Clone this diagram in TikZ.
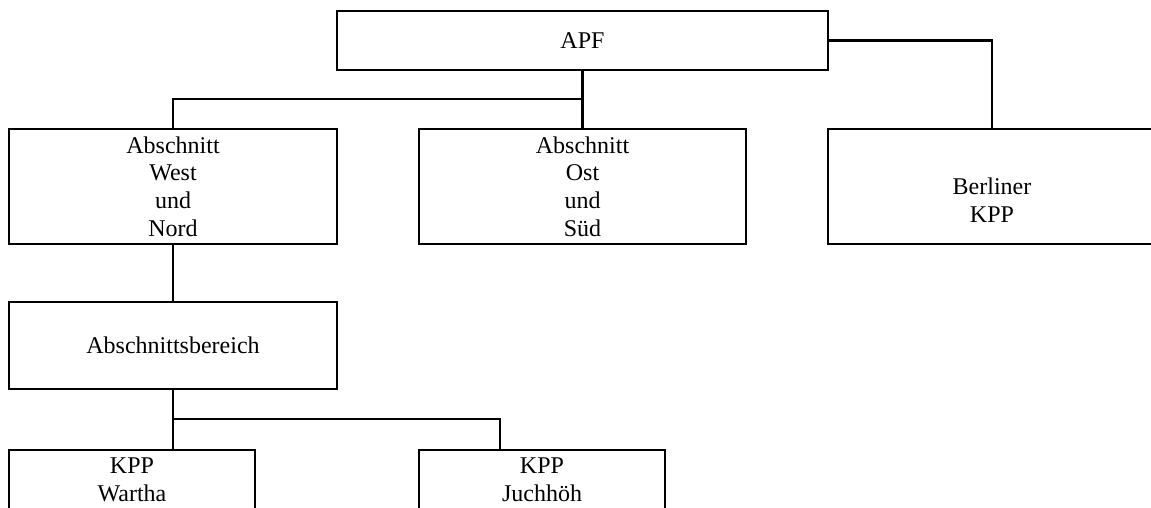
\documentclass[tikz,border=0pt]{standalone}
\usepackage{fontspec}
\setmainfont{Liberation Serif}
\begin{document}
\begin{tikzpicture}[x=1pt,y=-1pt,
  box/.style={draw=black,line width=2.4pt,rectangle,inner sep=0pt,align=center,
    font=\fontsize{24}{27.6}\selectfont},
  conn/.style={draw=black,line width=2.4pt}]
\useasboundingbox (0,0) rectangle (1151,507);
\node[box,minimum width=491pt,minimum height=59pt] (apf) at (582.5,40.5) {APF};
\node[box,minimum width=328pt,minimum height=115pt] (west) at (173,186.5) {Abschnitt\\West\\und\\Nord};
\node[box,minimum width=327pt,minimum height=115pt] (ost) at (582.5,186.5) {Abschnitt\\Ost\\und\\Süd};
\node[box,minimum width=328pt,minimum height=115pt] (berlin) at (992,186.5) {\strut\\[-3pt]Berliner\\KPP};
\node[box,minimum width=328pt,minimum height=87pt] (bereich) at (173,345.5) {Abschnittsbereich};
\node[box,minimum width=246pt,minimum height=122pt,anchor=north] (wartha) at (132,449) {KPP\\Wartha\\\strut\\\strut};
\node[box,minimum width=246pt,minimum height=122pt,anchor=north] (juch) at (542,449) {KPP\\Juchhöh\\\strut\\\strut};
\coordinate (j1) at (582.5,99);
\coordinate (j2) at (173,419);
\coordinate (d2) at (500,449);
\draw[conn] (apf.south) -- (ost.north);
\draw[conn] (j1) -| (west.north);
\draw[conn] (apf.east) -| (berlin.north);
\draw[conn] (west.south) -- (bereich.north);
\draw[conn] (bereich.south) -- (bereich.south |- wartha.north);
\draw[conn] (j2) -| (d2);
\end{tikzpicture}
\end{document}
